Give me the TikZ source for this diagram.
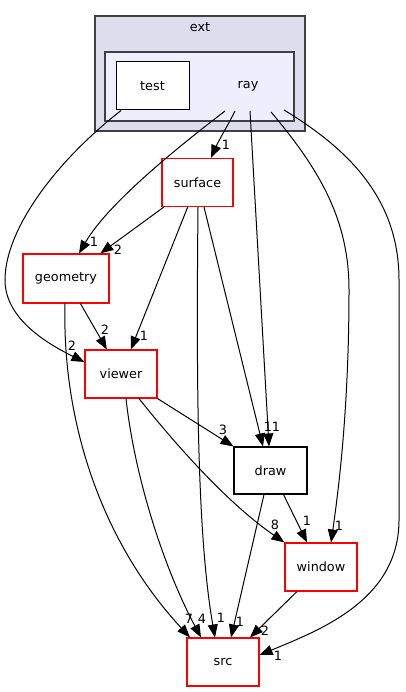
\documentclass[tikz,border=0pt]{standalone}
\usepackage{fontspec}
\setmainfont{DejaVu Sans}
\usetikzlibrary{arrows.meta}
\usetikzlibrary{positioning}
\definecolor{extfill}{HTML}{DDDDEE}
\definecolor{rayfill}{HTML}{EEEEFF}
\definecolor{clusterline}{HTML}{404040}

\begin{document}
\begin{tikzpicture}[x=1pt, y=-1pt, every node/.style={font=\fontsize{12.8}{15}\selectfont},
    dir/.style={draw=red, line width=1.1pt, minimum width=72pt, minimum height=48pt, inner sep=0pt, fill=white},
    plain/.style={dir, draw=black},
    dep/.style={line width=1pt, -{Triangle[length=13pt,width=10pt]}},
    num/.style={inner sep=0pt}]
  \useasboundingbox (0,0) rectangle (406,692);

  % ext cluster
  \draw[clusterline, line width=1.4pt, fill=extfill] (95,16) rectangle (305,131);
  \node (ext) at (200,27) {ext};

  % ray cluster
  \draw[clusterline, line width=1.4pt, fill=rayfill] (105,52) rectangle (294,121);
  \node (ray) at (248,86) {ray};
  \node[plain, minimum width=73pt, line width=1pt] (test) at (152.5,86) {test};

  % Verzeichnisse
  \node[dir, minimum width=71pt] (surface) at (197.5,182.5) {surface};
  \node[dir, minimum width=86pt, minimum height=49pt] (geometry) at (66,278.5) {geometry};
  \node[dir] (viewer) at (121,374) {viewer};
  \node[plain, minimum width=73pt, minimum height=47pt] (draw) at (270.5,470.5) {draw};
  \node[dir] (window) at (321,567) {window};
  \node[dir] (src) at (223,662) {src};

  % Startpunkte in ray
  \coordinate (ray-geo) at (225,111);
  \coordinate (ray-sur) at (235,111);
  \coordinate (ray-drw) at (250,111);
  \coordinate (ray-win) at (271,112);
  \coordinate (ray-src) at (284,110);

  % Pfeile
  \draw[dep] (test) .. controls (55,162) and (5,230) .. (5,280) .. controls (5,320) and (50,345) .. ([yshift=12pt]viewer.west);
  \draw[dep] (ray-sur) .. controls (228,125) and (218,142) .. ([xshift=13.5pt]surface.north);
  \draw[dep] (ray-geo) .. controls (190,138) and (110,200) .. ([xshift=13pt]geometry.north);
  \draw[dep] (ray-drw) -- ([xshift=-1.5pt]draw.north);
  \draw[dep] (ray-win) .. controls (320,170) and (349,220) .. (349,290) .. controls (349,400) and (340,480) .. ([xshift=10pt]window.north);
  \draw[dep] (ray-src) .. controls (350,150) and (399,200) .. (399,280) -- (399,520) .. controls (399,600) and (320,630) .. ([yshift=7pt]src.east);
  \draw[dep] (surface) -- (geometry);
  \draw[dep] (surface) -- (viewer);
  \draw[dep] ([xshift=0.5pt]surface.south) .. controls (196,400) and (198,540) .. ([xshift=-8pt]src.north);
  \draw[dep] ([xshift=6.5pt]surface.south) -- ([xshift=-7.5pt]draw.north);
  \draw[dep] (geometry) -- (viewer);
  \draw[dep] ([xshift=-1pt]geometry.south) .. controls (62,420) and (100,540) .. ([xshift=-33pt]src.north);
  \draw[dep] (viewer.south east) -- (draw.north west);
  \draw[dep] ([xshift=18pt]viewer.south) .. controls (180,450) and (230,505) .. (window.north west);
  \draw[dep] ([xshift=5pt]viewer.south) .. controls (135,480) and (165,570) .. ([xshift=-22pt]src.north);
  \draw[dep] ([xshift=-6.5pt]draw.south) -- ([xshift=8pt]src.north);
  \draw[dep] ([xshift=13pt]draw.south) -- ([xshift=-14pt]window.north);
  \draw[dep] ([xshift=-24pt]window.south) -- ([xshift=27pt]src.north);

  % Zahlen an den Pfeilen
  \node[num] (n-test-viewer) at (72,346) {2};
  \node[num] (n-ray-surface) at (226,145) {1};
  \node[num] (n-ray-geometry) at (94,242) {1};
  \node[num] (n-surface-geometry) at (118,250) {2};
  \node[num] (n-geometry-viewer) at (105,330) {2};
  \node[num] (n-surface-viewer) at (144,336) {1};
  \node[num] (n-surface-draw) at (268,427) {1};
  \node[num] (n-ray-draw) at (276,427) {1};
  \node[num] (n-viewer-draw) at (223,430) {3};
  \node[num] (n-viewer-window) at (275,525) {8};
  \node[num] (n-draw-window) at (307,521) {1};
  \node[num] (n-ray-window) at (339,526) {1};
  \node[num] (n-geometry-src) at (189,619) {7};
  \node[num] (n-viewer-src) at (202,619) {4};
  \node[num] (n-surface-src) at (221,618) {1};
  \node[num] (n-draw-src) at (240,622) {1};
  \node[num] (n-window-src) at (265,631) {2};
  \node[num] (n-ray-src) at (278,656) {1};

\end{tikzpicture}
\end{document}
